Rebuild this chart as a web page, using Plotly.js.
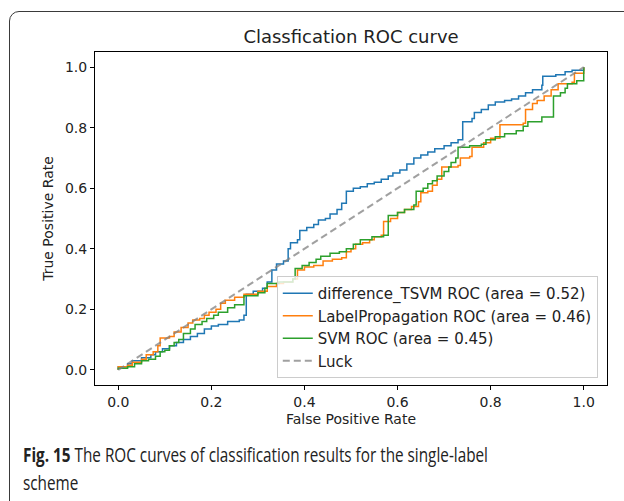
<!DOCTYPE html>
<html>
<head>
<meta charset="utf-8">
<script src="https://cdn.plot.ly/plotly-3.0.1.min.js"></script>
<style>
  html, body { margin: 0; padding: 0; background: #fff; }
  body { width: 624px; height: 501px; overflow: hidden; position: relative; }
  #frame {
    position: absolute; left: 9px; top: 11px; width: 700px; height: 600px;
    border: 1.5px solid #3a3a3a; border-radius: 10px; box-sizing: border-box;
  }
  #chart { position: absolute; left: 0; top: 0; width: 624px; height: 501px; }
  #caption {
    position: absolute; left: 23px; top: 441px;
    font-family: "Open Sans", "Noto Sans", sans-serif; font-size: 20px;
    line-height: 28px; color: #222; transform-origin: 0 0; white-space: nowrap;
  }
  #caption span.line { display: inline-block; }
  #caption b { font-weight: 700; }
</style>
</head>
<body>
<div id="frame"></div>
<div id="chart"></div>
<div id="caption"><span class="line" id="capLine1"><b>Fig. 15</b> The ROC curves of classification results for the single-label</span><br><span class="line">scheme</span></div>
<script>
// ROC staircase corners (false positive rate, true positive rate)
const tsvmFpr = [0,0,0.02,0.03,0.05,0.07,0.08,0.095,0.11,0.125,0.14,0.155,0.17,0.185,0.2,0.215,0.235,0.26,0.27,0.275,0.29,0.31,0.32,0.33,0.34,0.355,0.365,0.37,0.385,0.39,0.405,0.42,0.43,0.445,0.455,0.47,0.48,0.49,0.505,0.52,0.535,0.55,0.565,0.58,0.59,0.605,0.62,0.635,0.65,0.665,0.68,0.70,0.715,0.73,0.74,0.74,0.76,0.765,0.78,0.795,0.81,0.83,0.845,0.86,0.875,0.89,0.91,0.912,0.94,0.96,0.975,1.0];
const tsvmTpr = [0,0.01,0.02,0.03,0.04,0.05,0.06,0.07,0.08,0.09,0.10,0.11,0.12,0.135,0.145,0.15,0.16,0.165,0.18,0.25,0.26,0.27,0.29,0.33,0.35,0.36,0.40,0.42,0.43,0.46,0.47,0.48,0.495,0.50,0.515,0.53,0.55,0.59,0.60,0.605,0.615,0.62,0.63,0.64,0.65,0.66,0.68,0.70,0.71,0.72,0.73,0.74,0.75,0.76,0.78,0.82,0.83,0.85,0.86,0.875,0.885,0.89,0.895,0.905,0.915,0.925,0.94,0.97,0.975,0.985,0.99,1.0];

const lpFpr = [0,0,0.02,0.03,0.05,0.06,0.075,0.085,0.09,0.11,0.12,0.135,0.15,0.16,0.175,0.185,0.195,0.21,0.22,0.23,0.25,0.27,0.30,0.32,0.34,0.355,0.375,0.385,0.40,0.42,0.44,0.46,0.48,0.49,0.50,0.51,0.525,0.54,0.55,0.565,0.57,0.585,0.60,0.615,0.63,0.645,0.65,0.665,0.675,0.685,0.695,0.73,0.735,0.755,0.76,0.785,0.80,0.82,0.82,0.87,0.875,0.89,0.90,0.915,0.93,0.945,0.975,0.98,1.0,1.0];
const lpTpr = [0,0.01,0.015,0.025,0.035,0.05,0.06,0.08,0.105,0.11,0.125,0.14,0.155,0.165,0.17,0.18,0.19,0.20,0.22,0.23,0.24,0.25,0.26,0.275,0.285,0.29,0.30,0.33,0.34,0.345,0.36,0.365,0.37,0.39,0.40,0.415,0.42,0.43,0.44,0.445,0.49,0.50,0.52,0.53,0.54,0.555,0.585,0.59,0.61,0.63,0.67,0.675,0.70,0.705,0.735,0.75,0.765,0.775,0.81,0.815,0.86,0.88,0.89,0.905,0.925,0.945,0.95,0.98,0.985,1.0];

const svmFpr = [0,0,0.02,0.035,0.05,0.065,0.08,0.09,0.10,0.11,0.12,0.13,0.14,0.155,0.165,0.18,0.19,0.205,0.215,0.235,0.25,0.27,0.27,0.30,0.315,0.32,0.345,0.375,0.38,0.395,0.41,0.425,0.435,0.455,0.475,0.49,0.505,0.52,0.545,0.57,0.58,0.60,0.615,0.635,0.64,0.655,0.665,0.675,0.685,0.70,0.71,0.715,0.725,0.73,0.755,0.78,0.79,0.81,0.83,0.855,0.87,0.88,0.91,0.935,0.935,0.95,0.96,0.965,0.985,1.0,1.0];
const svmTpr = [0,0.005,0.01,0.02,0.03,0.035,0.045,0.06,0.065,0.08,0.09,0.10,0.12,0.135,0.15,0.16,0.17,0.18,0.19,0.205,0.215,0.22,0.245,0.255,0.27,0.285,0.29,0.30,0.335,0.345,0.355,0.365,0.375,0.385,0.39,0.40,0.415,0.43,0.44,0.445,0.51,0.52,0.53,0.545,0.59,0.60,0.615,0.625,0.64,0.655,0.67,0.685,0.70,0.735,0.74,0.745,0.76,0.77,0.78,0.79,0.805,0.82,0.835,0.845,0.905,0.915,0.93,0.945,0.955,0.96,1.0];

const luckX = [0, 1];
const luckY = [0, 1];

const seriesNames = [
  'difference_TSVM ROC (area = 0.52)',
  'LabelPropagation ROC (area = 0.46)',
  'SVM ROC (area = 0.45)',
  'Luck'
];
const tickVals = [0, 0.2, 0.4, 0.6, 0.8, 1.0];
const tickText = ['0.0', '0.2', '0.4', '0.6', '0.8', '1.0'];

const FONT = 'DejaVu Sans, sans-serif';

function stepTrace(x, y, name, color, group) {
  return {
    x: x, y: y, name: name, type: 'scatter', mode: 'lines',
    line: { color: color, width: 1.5, shape: 'hv' },
    legendgroup: group
  };
}

const traces = [
  stepTrace(tsvmFpr, tsvmTpr, seriesNames[0], '#1f77b4', 'a'),
  stepTrace(lpFpr, lpTpr, seriesNames[1], '#ff7f0e', 'b'),
  stepTrace(svmFpr, svmTpr, seriesNames[2], '#2ca02c', 'c'),
  {
    x: luckX, y: luckY, name: seriesNames[3], type: 'scatter', mode: 'lines',
    line: { color: 'rgba(128,128,128,0.75)', width: 2, dash: '7px,4px' },
    legendgroup: 'd'
  }
];

const axisCommon = {
  range: [-0.05, 1.05],
  tickvals: tickVals, ticktext: tickText,
  showgrid: false, zeroline: false,
  showline: true, mirror: true, linecolor: '#000', linewidth: 1,
  ticks: 'outside', ticklen: 4, tickwidth: 1, tickcolor: '#000',
  tickfont: { family: FONT, size: 14, color: '#222' }
};

const layout = {
  width: 624, height: 501,
  paper_bgcolor: 'rgba(0,0,0,0)', plot_bgcolor: '#fff',
  margin: { l: 95, r: 17, t: 52, b: 116 },
  title: {
    text: 'Classfication ROC curve',
    font: { family: FONT, size: 18, color: '#222' },
    x: 0.5625, xanchor: 'center', y: 0.926, yanchor: 'middle'
  },
  xaxis: Object.assign({}, axisCommon, {
    title: { text: 'False Positive Rate', font: { family: FONT, size: 14, color: '#222' }, standoff: 5 }
  }),
  yaxis: Object.assign({}, axisCommon, {
    title: { text: 'True Positive Rate', font: { family: FONT, size: 14, color: '#222' }, standoff: 8 }
  }),
  showlegend: true,
  legend: {
    x: 0.982, y: 0.021, xanchor: 'right', yanchor: 'bottom',
    bgcolor: 'rgba(255,255,255,0.8)', bordercolor: '#cccccc', borderwidth: 1,
    font: { family: FONT, size: 15, color: '#222' },
    traceorder: 'grouped', tracegroupgap: 0
  }
};

Plotly.newPlot('chart', traces, layout, { displayModeBar: false, staticPlot: true });

// fit the caption's first line to the figure text width
const cap = document.getElementById('caption');
const line1 = document.getElementById('capLine1');
const w = line1.getBoundingClientRect().width;
if (w > 0) cap.style.transform = 'scaleX(' + (465 / w).toFixed(4) + ')';
</script>
</body>
</html>
